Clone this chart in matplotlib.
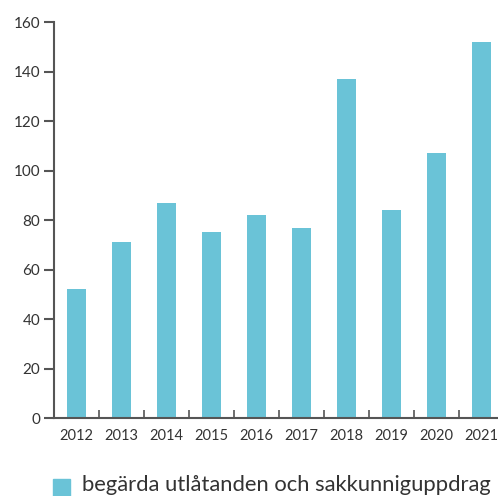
import matplotlib
matplotlib.use("Agg")
import matplotlib.pyplot as plt
from matplotlib.patches import Rectangle

plt.rcParams['font.family'] = ['Lato', 'DejaVu Sans']

years = ['2012', '2013', '2014', '2015', '2016', '2017', '2018', '2019', '2020', '2021']
values = [52, 71, 87, 75, 82, 77, 137, 84, 107, 152]
label = 'begärda utlåtanden och sakkunniguppdrag'

bar_color = '#6ac3d7'
axis_color = '#555555'
text_color = '#333333'

fig = plt.figure(figsize=(4.98, 4.96), dpi=100)
ax = fig.add_axes([0.1084, 0.157, 0.8916, 0.7986])

x = list(range(len(years)))
ax.bar(x, values, width=0.42, color=bar_color)

ax.set_xlim(-0.5, 9.36)
ax.set_ylim(0, 160)
ax.set_yticks(range(0, 161, 20))
ax.set_xticks(x)
ax.set_xticklabels(years)
ax.set_xticks([i + 0.5 for i in range(len(years) - 1)], minor=True)

for s in ['top', 'right']:
    ax.spines[s].set_visible(False)
for s in ['left', 'bottom']:
    ax.spines[s].set_color(axis_color)
    ax.spines[s].set_linewidth(1.5)

ax.tick_params(axis='y', direction='out', length=7, width=1.5, color=axis_color,
               labelsize=11, labelcolor=text_color, pad=3)
ax.tick_params(axis='x', which='major', length=0, labelsize=10.5,
               labelcolor=text_color, pad=8)
ax.tick_params(axis='x', which='minor', direction='in', length=6, width=1.2,
               color=axis_color)

# legend at the bottom edge
fig.patches.append(Rectangle((53 / 498, 0), 17 / 498, 17 / 496,
                             transform=fig.transFigure, color=bar_color))
fig.text(82 / 498, 1 / 496, label, fontsize=15.8, color=text_color,
         ha='left', va='bottom')

fig.savefig('out.png', dpi=100)
